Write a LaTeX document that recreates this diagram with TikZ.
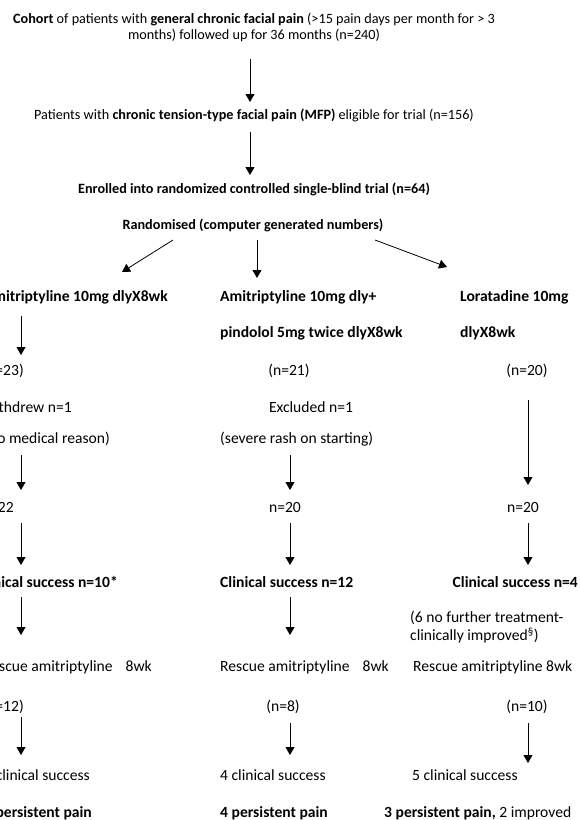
\documentclass[tikz,border=0pt]{standalone}
\usepackage{fontspec}
\setmainfont{Carlito}
\usetikzlibrary{arrows.meta}
\begin{document}
\begin{tikzpicture}[x=1pt,y=-1pt,
  top/.style={font=\fontsize{14.2}{15.5}\selectfont, inner sep=0pt, align=center},
  col/.style={font=\fontsize{15.6}{18}\selectfont, inner sep=0pt},
  arr/.style={line width=0.8pt, -{Triangle[length=8pt,width=9pt]}}]
\useasboundingbox (0,0) rectangle (580,820);
% top part
\node[top] (cohort) at (254,27.5) {\textbf{Cohort} of patients with \textbf{general chronic facial pain} (>15 pain days per month for > 3\\ months) followed up for 36 months (n=240)};
\node[top] (mfp) at (254,115) {Patients with \textbf{chronic tension-type facial pain (MFP)} eligible for trial (n=156)};
\node[top] (enr) at (254,189) {\textbf{Enrolled into randomized controlled single-blind trial (n=64)}};
\node[top] (rand) at (253,225) {\textbf{Randomised (computer generated numbers)}};
% left column
\node[col,anchor=east] (l1) at (168,297) {\textbf{Amitriptyline 10mg dlyX8wk}};
\node[col,anchor=east] (l2) at (24,371) {(n=23)};
\node[col,anchor=east] (l3) at (72,407) {Withdrew n=1};
\node[col,anchor=east] (l4) at (110,439) {(no medical reason)};
\node[col,anchor=east] (l5) at (14,507) {n=22};
\node[col,anchor=east] (l6) at (118,582) {\textbf{Clinical success n=10*}};
\node[col,anchor=east] (l7) at (152,667) {Rescue amitriptyline\hspace{13pt}8wk};
\node[col,anchor=east] (l8) at (24,707) {(n=12)};
\node[col,anchor=east] (l9) at (90,775) {6 clinical success};
\node[col,anchor=east] (l10) at (92,813) {\textbf{6 persistent pain}};
% middle column
\node[col,anchor=west] (m1) at (220,297) {\textbf{Amitriptyline 10mg dly+}};
\node[col,anchor=west] (m1b) at (220,333) {\textbf{pindolol 5mg twice dlyX8wk}};
\node[col] (m2) at (289,371) {(n=21)};
\node[col] (m3) at (311,407) {Excluded n=1};
\node[col,anchor=west] (m4) at (220,439) {(severe rash on starting)};
\node[col] (m5) at (285,507) {n=20};
\node[col,anchor=west] (m6) at (220,582) {\textbf{Clinical success n=12}};
\node[col,anchor=west] (m7) at (220,667) {Rescue amitriptyline\hspace{13pt}8wk};
\node[col] (m8) at (283,707) {(n=8)};
\node[col,anchor=west] (m9) at (220,775) {4 clinical success};
\node[col,anchor=west] (m10) at (220,813) {\textbf{4 persistent pain}};
% right column
\node[col,anchor=west] (r1) at (460,297) {\textbf{Loratadine 10mg}};
\node[col,anchor=west] (r1b) at (460,333) {\textbf{dlyX8wk}};
\node[col] (r2) at (527,371) {(n=20)};
\node[col] (r5) at (523,507) {n=20};
\node[col,anchor=east] (r6) at (578,582) {\textbf{Clinical success n=4}};
\node[col,anchor=west,align=left,font=\fontsize{15.6}{18}\selectfont] (r6b) at (410,627.5) {(6 no further treatment-\\clinically improved\textsuperscript{§})};
\node[col,anchor=west] (r7) at (413,667) {Rescue amitriptyline 8wk};
\node[col] (r8) at (527,707) {(n=10)};
\node[col,anchor=west] (r9) at (412,775) {5 clinical success};
\node[col,anchor=west] (r10) at (384,813) {\textbf{3 persistent pain,} 2 improved};
% arrow end points
\coordinate (a1s) at (250,59);  \coordinate (a1e) at (250,102);
\coordinate (a2s) at (250,132); \coordinate (a2e) at (250,175);
\coordinate (b1s) at (173,240); \coordinate (b1e) at (122,272);
\coordinate (b2s) at (257,240); \coordinate (b2e) at (257,278);
\coordinate (b3s) at (375,240); \coordinate (b3e) at (447,267);
\coordinate (c1s) at (21,316);  \coordinate (c1e) at (21,355);
\coordinate (d1s) at (528,400); \coordinate (d1e) at (528,485);
\coordinate (c2s) at (21,455);  \coordinate (c2e) at (21,490);
\coordinate (e2s) at (290,455); \coordinate (e2e) at (290,490);
\coordinate (c3s) at (21,523);  \coordinate (c3e) at (21,565);
\coordinate (e3s) at (290,523); \coordinate (e3e) at (290,565);
\coordinate (d3s) at (528,523); \coordinate (d3e) at (528,565);
\coordinate (c4s) at (21,597);  \coordinate (c4e) at (21,635);
\coordinate (e4s) at (290,597); \coordinate (e4e) at (290,635);
\coordinate (c5s) at (21,717);  \coordinate (c5e) at (21,755);
\coordinate (e5s) at (290,723); \coordinate (e5e) at (290,755);
\coordinate (d5s) at (528,723); \coordinate (d5e) at (528,763);
\foreach \a in {a1,a2,b1,b2,b3,c1,d1,c2,e2,c3,e3,d3,c4,e4,c5,e5,d5}
  \draw[arr] (\a s) -- (\a e);
\end{tikzpicture}
\end{document}
